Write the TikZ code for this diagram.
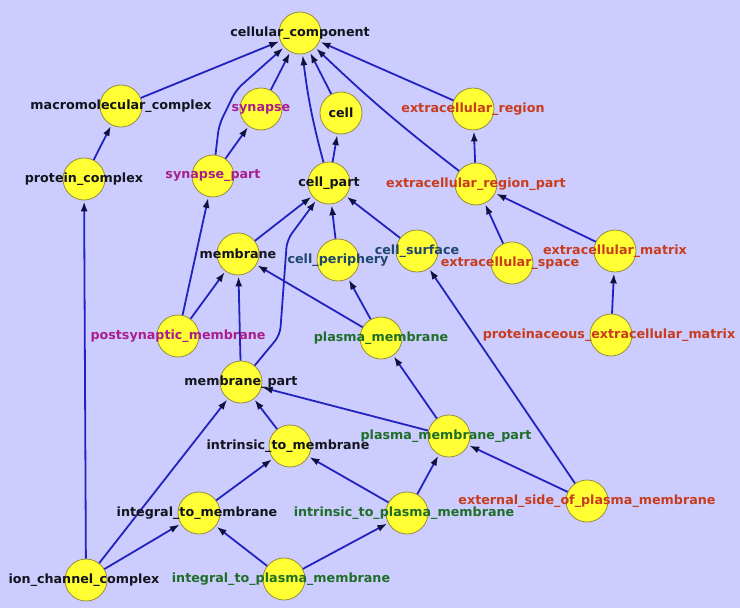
\documentclass[tikz,border=0pt]{standalone}
\usepackage{fontspec}
\setmainfont{DejaVu Sans}
\usetikzlibrary{arrows.meta}
\definecolor{bgc}{RGB}{204,204,255}
\definecolor{dotfill}{RGB}{255,255,51}
\definecolor{dotline}{RGB}{150,140,60}
\definecolor{edgec}{RGB}{34,34,190}
\definecolor{tipc}{RGB}{16,16,64}
\definecolor{tblack}{RGB}{20,20,30}
\definecolor{tpurple}{RGB}{170,30,140}
\definecolor{tnavy}{RGB}{30,70,110}
\definecolor{tgreen}{RGB}{30,110,40}
\definecolor{tred}{RGB}{200,60,30}
\tikzset{
  dot/.style={circle, fill=dotfill, draw=dotline, line width=0.8pt, minimum size=42pt, inner sep=0pt},
  lbl/.style={font=\fontsize{12.7}{15}\selectfont\bfseries, inner sep=0pt},
  edge/.style={draw=edgec, line width=1.8pt, shorten >=1pt,
    -{Latex[length=10pt,width=7pt,color=tipc]}}
}
\begin{document}
\begin{tikzpicture}[x=1pt,y=-1pt]
\fill[bgc] (0,0) rectangle (740,608);
\useasboundingbox (0,0) rectangle (740,608);
% nodes
\node[dot] (cc) at (300,33) {};
\node[dot] (mmc) at (121,106) {};
\node[dot] (syn) at (261,109) {};
\node[dot] (cell) at (341,113) {};
\node[dot] (exr) at (473,109) {};
\node[dot] (pc) at (84,179) {};
\node[dot] (sp) at (213,176) {};
\node[dot] (cp) at (329,183) {};
\node[dot] (erp) at (476,184) {};
\node[dot] (mem) at (238,254) {};
\node[dot] (cper) at (338,260) {};
\node[dot] (csur) at (417,251) {};
\node[dot] (exs) at (512,263) {};
\node[dot] (exm) at (615,251) {};
\node[dot] (psm) at (178,336) {};
\node[dot] (pm) at (381,338) {};
\node[dot] (pem) at (611,335) {};
\node[dot] (mp) at (241,382) {};
\node[dot] (itm) at (290,446) {};
\node[dot] (pmp) at (449,436) {};
\node[dot] (intm) at (199,513) {};
\node[dot] (itpm) at (407,513) {};
\node[dot] (espm) at (587,501) {};
\node[dot] (icc) at (86,580) {};
\node[dot] (igpm) at (284,579) {};
% edges
\draw[edge] (mmc) -- (cc);
\draw[edge, rounded corners=8pt] (sp) -- (219,125) -- (236,90) -- (cc);
\draw[edge] (syn) -- (cc);
\draw[edge] (cp) to[bend left=4] (cc);
\draw[edge] (cell) -- (cc);
\draw[edge] (exr) -- (cc);
\draw[edge] (erp) to[bend left=3] (cc);
\draw[edge] (pc) -- (mmc);
\draw[edge] (sp) -- (syn);
\draw[edge] (cp) -- (cell);
\draw[edge] (erp) -- (exr);
\draw[edge] (mem) -- (cp);
\draw[edge] (cper) -- (cp);
\draw[edge] (csur) -- (cp);
\draw[edge, rounded corners=8pt] (mp) -- (280,335) -- (287,240) -- (cp);
\draw[edge] (psm) -- (sp);
\draw[edge] (psm) -- (mem);
\draw[edge] (mp) -- (mem);
\draw[edge] (pm) -- (mem);
\draw[edge] (pm) -- (cper);
\draw[edge] (exs) -- (erp);
\draw[edge] (exm) -- (erp);
\draw[edge] (pem) -- (exm);
\draw[edge] (espm) -- (csur);
\draw[edge] (pmp) -- (mp);
\draw[edge] (pmp) -- (pm);
\draw[edge] (itm) -- (mp);
\draw[edge] (intm) -- (itm);
\draw[edge] (itpm) -- (itm);
\draw[edge] (itpm) -- (pmp);
\draw[edge] (espm) -- (pmp);
\draw[edge] (igpm) -- (intm);
\draw[edge] (igpm) -- (itpm);
\draw[edge] (icc) -- (pc);
\draw[edge] (icc) -- (mp);
\draw[edge] (icc) -- (intm);
% labels
\node[lbl, text=tblack] at (cc) {cellular\_component};
\node[lbl, text=tblack] at (mmc) {macromolecular\_complex};
\node[lbl, text=tpurple] at (syn) {synapse};
\node[lbl, text=tblack] at (cell) {cell};
\node[lbl, text=tred] at (exr) {extracellular\_region};
\node[lbl, text=tblack] at (pc) {protein\_complex};
\node[lbl, text=tpurple] at (sp) {synapse\_part};
\node[lbl, text=tblack] at (cp) {cell\_part};
\node[lbl, text=tred] at (erp) {extracellular\_region\_part};
\node[lbl, text=tblack] at (mem) {membrane};
\node[lbl, text=tnavy] at (cper) {cell\_periphery};
\node[lbl, text=tnavy] at (csur) {cell\_surface};
\node[lbl, text=tred] at ([xshift=-2pt]exs) {extracellular\_space};
\node[lbl, text=tred] at (exm) {extracellular\_matrix};
\node[lbl, text=tpurple] at (psm) {postsynaptic\_membrane};
\node[lbl, text=tgreen] at (pm) {plasma\_membrane};
\node[lbl, text=tred] at ([xshift=-2pt]pem) {proteinaceous\_extracellular\_matrix};
\node[lbl, text=tblack] at (mp) {membrane\_part};
\node[lbl, text=tblack] at ([xshift=-2pt]itm) {intrinsic\_to\_membrane};
\node[lbl, text=tgreen] at ([xshift=-3pt]pmp) {plasma\_membrane\_part};
\node[lbl, text=tblack] at ([xshift=-2pt]intm) {integral\_to\_membrane};
\node[lbl, text=tgreen] at ([xshift=-3pt]itpm) {intrinsic\_to\_plasma\_membrane};
\node[lbl, text=tred] at (espm) {external\_side\_of\_plasma\_membrane};
\node[lbl, text=tblack] at ([xshift=-2pt]icc) {ion\_channel\_complex};
\node[lbl, text=tgreen] at ([xshift=-3pt]igpm) {integral\_to\_plasma\_membrane};
\end{tikzpicture}
\end{document}
